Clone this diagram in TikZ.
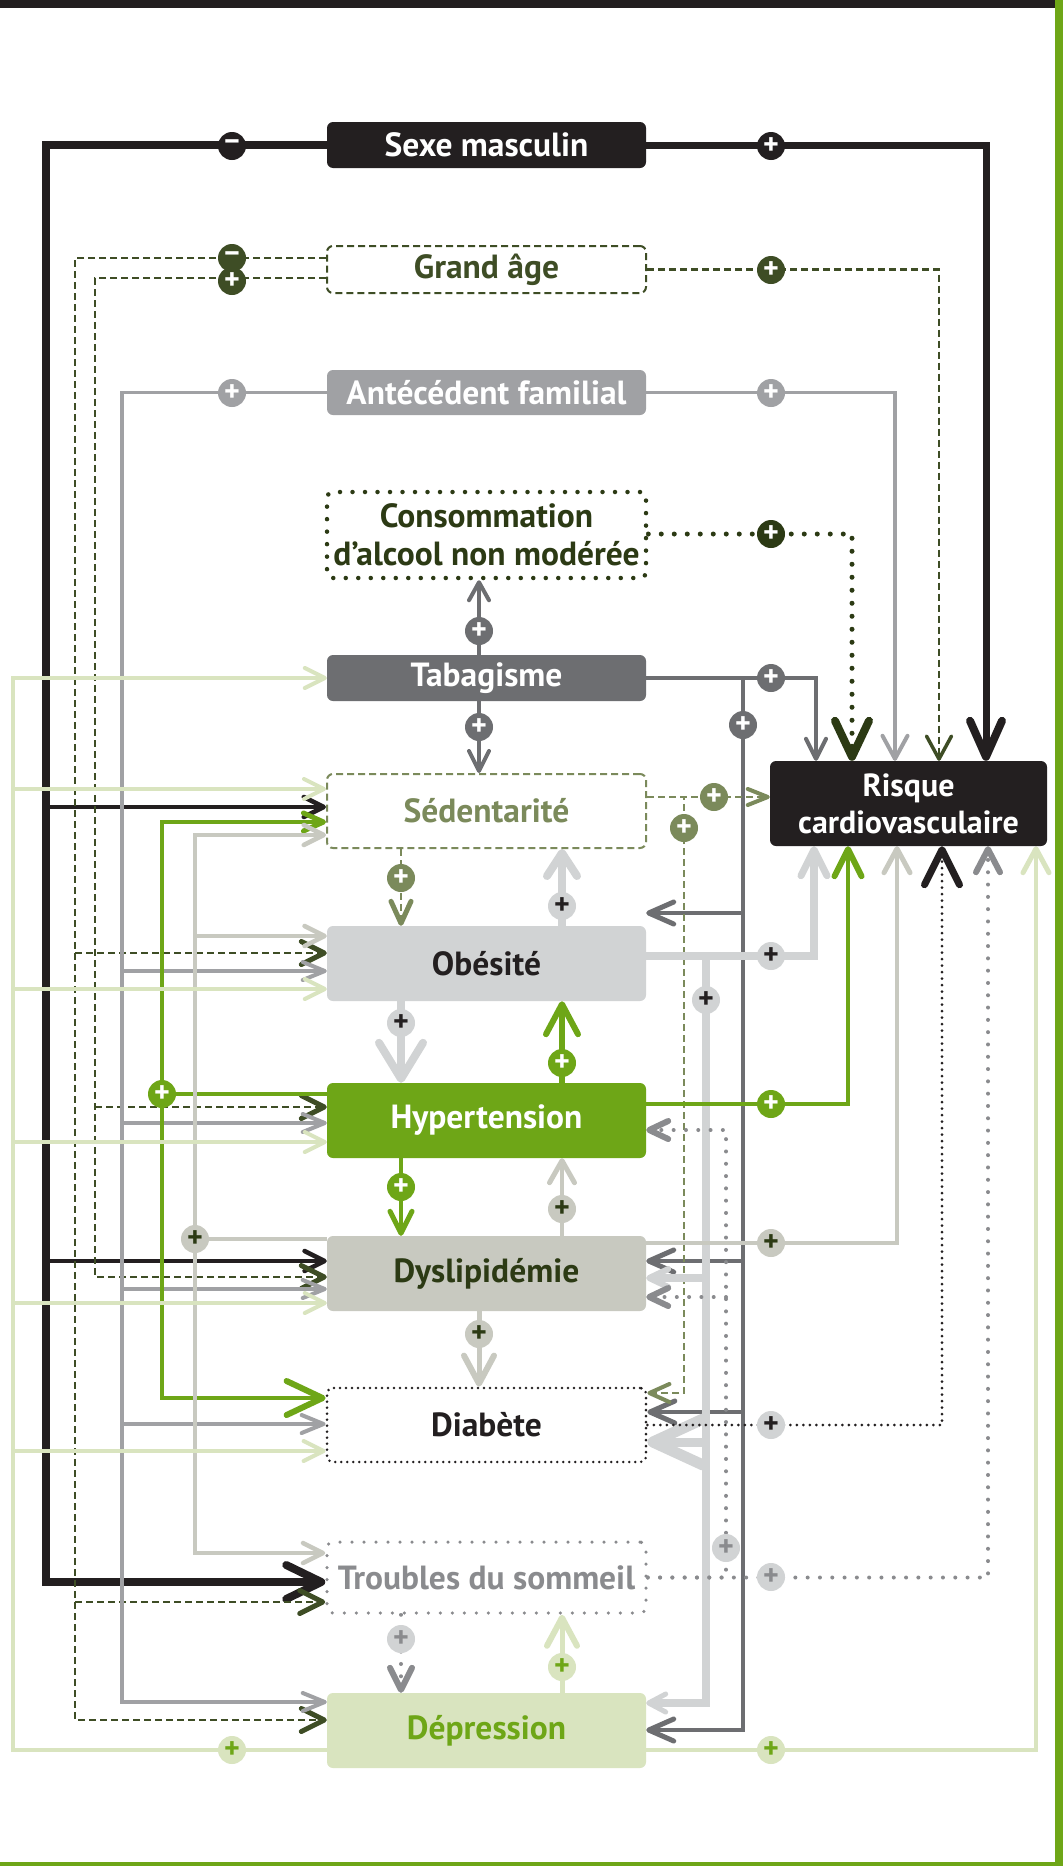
\documentclass[tikz,border=0pt]{standalone}
\usepackage{fontspec}
\setmainfont{PT Sans}
\usetikzlibrary{arrows.meta}
\definecolor{cBlack}{HTML}{231F20}
\definecolor{cDGray}{HTML}{6D6E71}
\definecolor{cGray}{HTML}{A0A1A4}
\definecolor{cLGray}{HTML}{D1D3D4}
\definecolor{cGreige}{HTML}{C8C9C0}
\definecolor{cGreen}{HTML}{6EA617}
\definecolor{cLGreen}{HTML}{D9E4BF}
\definecolor{cOlive}{HTML}{7B8A5B}
\definecolor{cDOlive}{HTML}{3E4D25}
\definecolor{cDGreen}{HTML}{2C3A14}
\definecolor{cTGray}{HTML}{8A8B8E}
\pgfdeclarelayer{back}
\pgfdeclarelayer{lines}
\pgfsetlayers{back,lines,main}
\tikzset{
  box/.style={rounded corners=6pt, minimum width=319pt, inner sep=0pt, align=center,
    font=\fontsize{33.5}{38}\selectfont\bfseries},
  sgn/.style={circle, minimum size=28pt, inner sep=0pt, font=\fontsize{30}{30}\selectfont\bfseries},
  ah/.style n args={3}{-{Straight Barb[length=#1,width=#2,round,line width=#3]}},
  dotA/.style={line cap=round, dash pattern=on 0pt off #1},
  dsh/.style={dash pattern=on 7pt off 4pt},
}
\begin{document}
\begin{tikzpicture}[x=1pt,y=-1pt]
\begin{pgfonlayer}{back}
\fill[white] (0,0) rectangle (1063,1866);
\fill[cBlack] (0,0) rectangle (1055,8);
\fill[cGreen] (1055,0) rectangle (1063,1866);
\fill[cGreen] (0,1862) rectangle (1063,1866);
\end{pgfonlayer}
\useasboundingbox (0,0) rectangle (1063,1866);

% boxes
\node[box, fill=cBlack, text=white, minimum height=46pt] (sexe) at (486.5,145) {Sexe masculin};
\node[box, draw=cDOlive, line width=2pt, dsh, fill=white, text=cDOlive, minimum height=47pt] (age) at (486.5,269.5) {Grand âge};
\node[box, fill=cGray, text=white, minimum height=45pt] (ante) at (486.5,392.5) {Antécédent familial};
\node[box, draw=cDGreen, line width=4.5pt, line cap=round, dash pattern=on 0pt off 12.5pt, fill=white, text=cDGreen, minimum height=86pt] (alc) at (486.5,535) {Consommation\\d’alcool non modérée};
\node[box, fill=cDGray, text=white, minimum height=46pt] (tab) at (486.5,678) {Tabagisme};
\node[box, draw=cOlive, line width=2pt, dsh, fill=white, text=cOlive, minimum height=74pt] (sed) at (486.5,811) {Sédentarité};
\node[box, fill=cLGray, text=cBlack, minimum height=75pt] (obe) at (486.5,963.5) {Obésité};
\node[box, fill=cGreen, text=white, minimum height=75pt] (hyp) at (486.5,1120.5) {Hypertension};
\node[box, fill=cGreige, text=cDGreen, minimum height=75pt] (dys) at (486.5,1273.5) {Dyslipidémie};
\node[box, draw=cBlack, line width=2.8pt, line cap=round, dash pattern=on 0pt off 6pt, fill=white, text=cBlack, minimum height=74pt] (dia) at (486.5,1425) {Diabète};
\node[box, draw=cTGray, line width=3.5pt, line cap=round, dash pattern=on 0pt off 12pt, fill=white, text=cTGray, minimum height=71pt] (tro) at (486.5,1577.5) {Troubles du sommeil};
\node[box, fill=cLGreen, text=cGreen, minimum height=75pt] (dep) at (486.5,1730.5) {Dépression};
\node[box, fill=cBlack, text=white, minimum width=277pt, minimum height=85pt, font=\fontsize{32}{37}\selectfont\bfseries] (ris) at (908.5,803.5) {Risque\\cardiovasculaire};

\begin{pgfonlayer}{lines}
% Sexe masculin
\draw[cBlack, line width=7pt, ah={36pt}{32pt}{8pt}] (sexe.east) -| (ris.north -| 986,0);
\draw[cBlack, line width=8pt, ah={35pt}{34pt}{8pt}] (sexe.west) -| (46,1582) -- (tro.west |- 0,1582);
\draw[cBlack, line width=4.5pt, ah={20pt}{20pt}{4.5pt}] (46,807) -- (sed.west |- 0,807);
\draw[cBlack, line width=4.5pt, ah={20pt}{20pt}{4.5pt}] (46,1261) -- (dys.west |- 0,1261);
% Grand age
\draw[cDOlive, line width=2.5pt, dsh, ah={23pt}{25pt}{3.5pt}] (age.east) -| (ris.north -| 939,0);
\draw[cDOlive, line width=2.5pt, dsh, ah={23pt}{23pt}{5pt}] (age.west |- 0,258) -| (75,1720) -- (dep.west |- 0,1720);
\draw[cDOlive, line width=2.5pt, dsh, ah={23pt}{23pt}{5pt}] (75,953) -- (obe.west |- 0,953);
\draw[cDOlive, line width=2.5pt, dsh, ah={23pt}{23pt}{5pt}] (75,1602) -- (tro.west |- 0,1602);
\draw[cDOlive, line width=2.5pt, dsh, ah={23pt}{23pt}{5pt}] (age.west |- 0,278) -| (95,1277) -- (dys.west |- 0,1277);
\draw[cDOlive, line width=2.5pt, dsh, ah={23pt}{23pt}{5pt}] (95,1107) -- (hyp.west |- 0,1107);
% Antecedent
\draw[cGray, line width=3.5pt, ah={23pt}{25pt}{4pt}] (ante.east) -| (ris.north -| 895,0);
\draw[cGray, line width=3.5pt, ah={22pt}{18pt}{4pt}] (ante.west) -| (122,1702) -- (dep.west |- 0,1702);
\draw[cGray, line width=3.5pt, ah={22pt}{18pt}{4pt}] (122,971) -- (obe.west |- 0,971);
\draw[cGray, line width=3.5pt, ah={22pt}{18pt}{4pt}] (122,1123) -- (hyp.west |- 0,1123);
\draw[cGray, line width=3.5pt, ah={22pt}{18pt}{4pt}] (122,1289) -- (dys.west |- 0,1289);
\draw[cGray, line width=3.5pt, ah={22pt}{18pt}{4pt}] (122,1424) -- (dia.west |- 0,1424);
% Consommation
\draw[cDGreen, line width=5pt, dotA=13pt, ah={36pt}{34pt}{8pt}] (alc.east |- 0,534) -| (ris.north -| 852,0);
% Tabagisme
\draw[cDGray, line width=4pt, ah={18pt}{20pt}{4pt}] (tab.north -| 479,0) -- (alc.south -| 479,0);
\draw[cDGray, line width=4pt, ah={20pt}{20pt}{4pt}] (tab.south -| 479,0) -- (sed.north -| 479,0);
\draw[cDGray, line width=4pt, ah={20pt}{20pt}{4pt}] (tab.east) -| (ris.north -| 816,0);
\draw[cDGray, line width=4.5pt, ah={25pt}{22pt}{5pt}] (tab.east) -| (743,1730) -- (dep.east |- 0,1730);
\draw[cDGray, line width=4.5pt, ah={25pt}{22pt}{5pt}] (743,913) -- (obe.east |- 0,913);
\draw[cDGray, line width=4.5pt, ah={25pt}{22pt}{5pt}] (743,1261) -- (dys.east |- 0,1261);
\draw[cDGray, line width=4.5pt, ah={25pt}{22pt}{5pt}] (743,1412) -- (dia.east |- 0,1412);
% Sedentarite
\draw[cOlive, line width=2.5pt, dsh, ah={20pt}{16pt}{4pt}] (sed.east |- 0,797) -- (ris.west |- 0,797);
\draw[cOlive, line width=2.5pt, dsh, ah={20pt}{18pt}{4pt}] (sed.east |- 0,797) -| (684,1393) -- (dia.east |- 0,1393);
\draw[cOlive, line width=2.5pt, dsh, ah={22pt}{20pt}{5pt}] (sed.south -| 401,0) -- (obe.north -| 401,0);
% Obesite
\draw[cLGray, line width=8pt, ah={26pt}{26pt}{7pt}] (obe.east |- 0,956) -| (ris.south -| 814,0);
\draw[cLGray, line width=7.5pt, ah={17pt}{18pt}{5pt}] (obe.east |- 0,956) -| (706,1703) -- (dep.east |- 0,1703);
\draw[cLGray, line width=7.5pt, ah={19pt}{18pt}{6pt}] (706,1278) -- (dys.east |- 0,1278);
\draw[cLGray, line width=9pt, ah={50pt}{46pt}{11pt}] (706,1442) -- (dia.east |- 0,1442);
\draw[cLGray, line width=8pt, ah={23pt}{30pt}{8pt}] (obe.north -| 562,0) -- (sed.south -| 562,0);
\draw[cLGray, line width=8pt, ah={36pt}{44pt}{8pt}] (obe.south -| 401,0) -- (hyp.north -| 401,0);
% Hypertension
\draw[cGreen, line width=4.5pt, ah={27pt}{27pt}{6pt}] (hyp.east |- 0,1104) -| (ris.south -| 848,0);
\draw[cGreen, line width=4.5pt, ah={20pt}{18pt}{5pt}] (hyp.west |- 0,1094) -| (162,822) -- (sed.west |- 0,822);
\draw[cGreen, line width=4.5pt, ah={36pt}{34pt}{6pt}] (162,1094) -- (162,1398) -- (dia.west |- 0,1398);
\draw[cGreen, line width=6pt, ah={30pt}{32pt}{6pt}] (hyp.north -| 562,0) -- (obe.south -| 562,0);
\draw[cGreen, line width=4pt, ah={22pt}{22pt}{5pt}] (hyp.south -| 401,0) -- (dys.north -| 401,0);
% Dyslipidemie
\draw[cGreige, line width=4pt, ah={24pt}{26pt}{5pt}] (dys.east |- 0,1243) -| (ris.south -| 897,0);
\draw[cGreige, line width=4.5pt, ah={20pt}{20pt}{4.5pt}] (dys.west |- 0,1239) -| (195,835) -- (sed.west |- 0,835);
\draw[cGreige, line width=4.5pt, ah={20pt}{20pt}{4.5pt}] (195,936) -- (obe.west |- 0,936);
\draw[cGreige, line width=4.5pt, ah={20pt}{20pt}{4.5pt}] (195,1239) -- (195,1553) -- (tro.west |- 0,1553);
\draw[cGreige, line width=4.5pt, ah={22pt}{25pt}{5pt}] (dys.north -| 562,0) -- (hyp.south -| 562,0);
\draw[cGreige, line width=5pt, ah={28pt}{30pt}{6pt}] (dys.south -| 479,0) -- (dia.north -| 479,0);
% Diabete
\draw[cBlack, line width=3pt, dotA=6.5pt, ah={35pt}{35pt}{7pt}] (dia.east) -| (ris.south -| 942,0);
% Troubles du sommeil
\draw[cTGray, line width=4pt, dotA=12.3pt, ah={23pt}{24pt}{6pt}] (tro.east) -| (ris.south -| 988,0);
\draw[cTGray, line width=4pt, dotA=12.3pt, ah={19pt}{18pt}{6pt}] (tro.east) -| (726,1130) -- (hyp.east |- 0,1130);
\draw[cTGray, line width=4pt, dotA=12.3pt, ah={19pt}{18pt}{6pt}] (726,1297) -- (dys.east |- 0,1297);
\draw[cTGray, line width=4pt, dotA=12.3pt, ah={22pt}{22pt}{6pt}] (tro.south -| 401,0) -- (dep.north -| 401,0);
% Depression
\draw[cLGreen, line width=4pt, ah={24pt}{26pt}{5pt}] (dep.east |- 0,1750) -| (ris.south -| 1036,0);
\draw[cLGreen, line width=4pt, ah={20pt}{20pt}{4pt}] (dep.west |- 0,1750) -| (13,678) -- (tab.west);
\draw[cLGreen, line width=4pt, ah={20pt}{20pt}{4pt}] (13,789) -- (sed.west |- 0,789);
\draw[cLGreen, line width=4pt, ah={20pt}{20pt}{4pt}] (13,989) -- (obe.west |- 0,989);
\draw[cLGreen, line width=4pt, ah={20pt}{20pt}{4pt}] (13,1142) -- (hyp.west |- 0,1142);
\draw[cLGreen, line width=4pt, ah={20pt}{20pt}{4pt}] (13,1303) -- (dys.west |- 0,1303);
\draw[cLGreen, line width=4pt, ah={20pt}{20pt}{4pt}] (13,1451) -- (dia.west |- 0,1451);
\draw[cLGreen, line width=5pt, ah={28pt}{30pt}{6pt}] (dep.north -| 562,0) -- (tro.south -| 562,0);
\end{pgfonlayer}

% signs
\node[sgn, fill=cBlack, text=white] (s1) at (771,146) {+};
\node[sgn, fill=cBlack, text=white] (s2) at (232,146) {−};
\node[sgn, fill=cDOlive, text=white] (g1) at (771,270) {+};
\node[sgn, fill=cDOlive, text=white] (g3) at (232,281) {+};
\node[sgn, fill=cDOlive, text=white] (g2) at (232,258) {−};
\node[sgn, fill=cGray, text=white] (a1) at (771,393) {+};
\node[sgn, fill=cGray, text=white] (a2) at (232,393) {+};
\node[sgn, fill=cDGreen, text=white] (c1) at (771,534) {+};
\node[sgn, fill=cDGray, text=white] (t1) at (479,631) {+};
\node[sgn, fill=cDGray, text=white] (t2) at (479,727) {+};
\node[sgn, fill=cDGray, text=white] (t3) at (771,678) {+};
\node[sgn, fill=cDGray, text=white] (t4) at (743,725) {+};
\node[sgn, fill=cOlive, text=white] (e1) at (714,797) {+};
\node[sgn, fill=cOlive, text=white] (e2) at (684,828) {+};
\node[sgn, fill=cOlive, text=white] (e3) at (401,878) {+};
\node[sgn, fill=cLGray, text=cBlack] (o1) at (771,956) {+};
\node[sgn, fill=cLGray, text=cBlack] (o2) at (706,1000) {+};
\node[sgn, fill=cLGray, text=cBlack] (o3) at (562,906) {+};
\node[sgn, fill=cLGray, text=cBlack] (o4) at (401,1023) {+};
\node[sgn, fill=cGreen, text=white] (h1) at (771,1104) {+};
\node[sgn, fill=cGreen, text=white] (h2) at (162,1094) {+};
\node[sgn, fill=cGreen, text=white] (h3) at (562,1063) {+};
\node[sgn, fill=cGreen, text=white] (h4) at (401,1187) {+};
\node[sgn, fill=cGreige, text=cDGreen] (d1) at (771,1243) {+};
\node[sgn, fill=cGreige, text=cDGreen] (d2) at (195,1239) {+};
\node[sgn, fill=cGreige, text=cDGreen] (d3) at (562,1209) {+};
\node[sgn, fill=cGreige, text=cDGreen] (d4) at (479,1334) {+};
\node[sgn, fill=cLGray, text=cBlack] (b1) at (771,1425) {+};
\node[sgn, fill=cLGray, text=cTGray] (r1) at (771,1577) {+};
\node[sgn, fill=cLGray, text=cTGray] (r2) at (726,1548) {+};
\node[sgn, fill=cLGray, text=cTGray] (r3) at (401,1639) {+};
\node[sgn, fill=cLGreen, text=cGreen] (p1) at (771,1750) {+};
\node[sgn, fill=cLGreen, text=cGreen] (p2) at (232,1750) {+};
\node[sgn, fill=cLGreen, text=cGreen] (p3) at (562,1667) {+};
\end{tikzpicture}
\end{document}
